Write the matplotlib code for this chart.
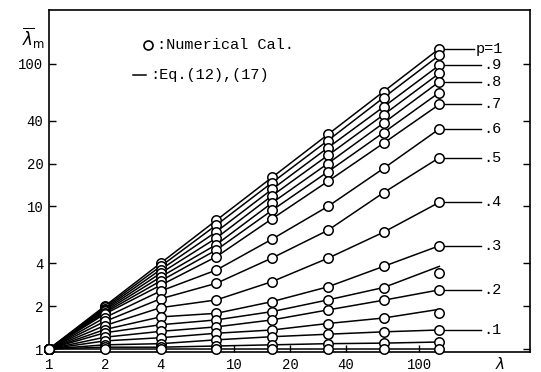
import numpy as np
import matplotlib.pyplot as plt

plt.rcParams['font.family'] = ['Liberation Mono', 'DejaVu Sans Mono']

lam = [1, 2, 4, 8, 16, 32, 64, 128]

# mean values for each p (circles = numerical calculation)
lm_100 = [1, 2.00, 4.00, 8.00, 16.0, 32.0, 64.0, 128.0]
lm_095 = [1, 1.96, 3.80, 7.40, 14.7, 29.0, 58.0, 115.0]
lm_090 = [1, 1.92, 3.60, 6.65, 13.2, 25.8, 50.0, 98.0]
lm_085 = [1, 1.88, 3.40, 6.00, 11.9, 22.8, 44.0, 86.0]
lm_080 = [1, 1.84, 3.20, 5.40, 10.6, 20.0, 38.5, 75.0]
lm_075 = [1, 1.80, 3.00, 4.95, 9.40, 17.5, 33.0, 63.0]
lm_070 = [1, 1.76, 2.80, 4.44, 8.20, 15.0, 27.8, 52.0]
lm_060 = [1, 1.66, 2.55, 3.58, 5.90, 10.0, 18.5, 35.0]
lm_050 = [1, 1.56, 2.25, 2.89, 4.35, 6.80, 12.5, 22.0]
lm_040 = [1, 1.46, 1.95, 2.21, 2.97, 4.33, 6.60, 10.7]
lm_030 = [1, 1.37, 1.68, 1.78, 2.15, 2.73, 3.80, 5.30]
lm_025 = [1, 1.30, 1.48, 1.60, 1.83, 2.21, 2.70, 3.40]
lm_020 = [1, 1.21, 1.33, 1.43, 1.60, 1.88, 2.20, 2.60]
lm_015 = [1, 1.14, 1.20, 1.29, 1.36, 1.51, 1.65, 1.80]
lm_010 = [1, 1.07, 1.09, 1.16, 1.22, 1.27, 1.32, 1.36]
lm_005 = [1, 1.03, 1.03, 1.05, 1.07, 1.09, 1.10, 1.12]
lm_000 = [1, 1, 1, 1, 1, 1, 1, 1]

series = [lm_100, lm_095, lm_090, lm_085, lm_080, lm_075, lm_070, lm_060,
          lm_050, lm_040, lm_030, lm_025, lm_020, lm_015, lm_010, lm_005, lm_000]
p_vals = [1, .95, .9, .85, .8, .75, .7, .6, .5, .4, .3, .25, .2, .15, .1, .05, 0]

# Eq.(12),(17) end values where they differ from the numerical result
eq_end = {.25: 3.8, .15: 1.9}

labels = {1: 'p=1', .9: '.9', .8: '.8', .7: '.7', .6: '.6', .5: '.5',
          .4: '.4', .3: '.3', .2: '.2', .1: '.1'}

fig = plt.figure(figsize=(5.41, 3.72), dpi=100)
ax = fig.add_axes([49/541, 20/372, 481/541, 342/372])
ax.set_xscale('log')
ax.set_yscale('log')
ax.set_xlim(1, 395)
ax.set_ylim(0.953, 239)

for p, vals in zip(p_vals, series):
    line_vals = list(vals)
    if p in eq_end:
        line_vals[-1] = eq_end[p]
    ax.plot(lam, line_vals, color='black', lw=1.1, zorder=2, clip_on=False)
    ax.plot(lam, vals, 'o', ms=6.8, mfc='white', mec='black', mew=1.1,
            zorder=3, clip_on=False)
    if p in labels:
        x_end = 198 if p == 1 else 216
        ax.plot([lam[-1], x_end], [vals[-1], vals[-1]], color='black',
                lw=1.0, zorder=1)
        ax.text(x_end * 1.02, vals[-1], labels[p], fontsize=11,
                va='center', ha='left')

ticks = [1, 2, 4, 10, 20, 40, 100]
ax.set_xticks(ticks)
ax.set_xticklabels([str(t) for t in ticks])
ax.set_yticks(ticks)
ax.set_yticklabels([str(t) for t in ticks])
ax.minorticks_off()
ax.tick_params(direction='in', length=5, width=1.0, labelsize=10,
               right=True, top=False, pad=4)
for s in ax.spines.values():
    s.set_linewidth(1.2)

# legend drawn by hand
ax.plot([3.42], [136], 'o', ms=6.5, mfc='white', mec='black', mew=1.2)
ax.text(3.85, 136, ':Numerical Cal.', fontsize=11, va='center')
ax.plot([2.84, 3.33], [84, 84], color='black', lw=1.1)
ax.text(3.5, 84, ':Eq.(12),(17)', fontsize=11, va='center')

fig.text(22/541, 1 - 38/372, r'$\overline{\lambda}_{\rm m}$', fontsize=12,
         ha='left', va='center')
fig.text(500/541, 1 - 364/372, r'$\lambda$', fontsize=11, ha='center',
         va='center')

fig.savefig('out.png', dpi=100)
